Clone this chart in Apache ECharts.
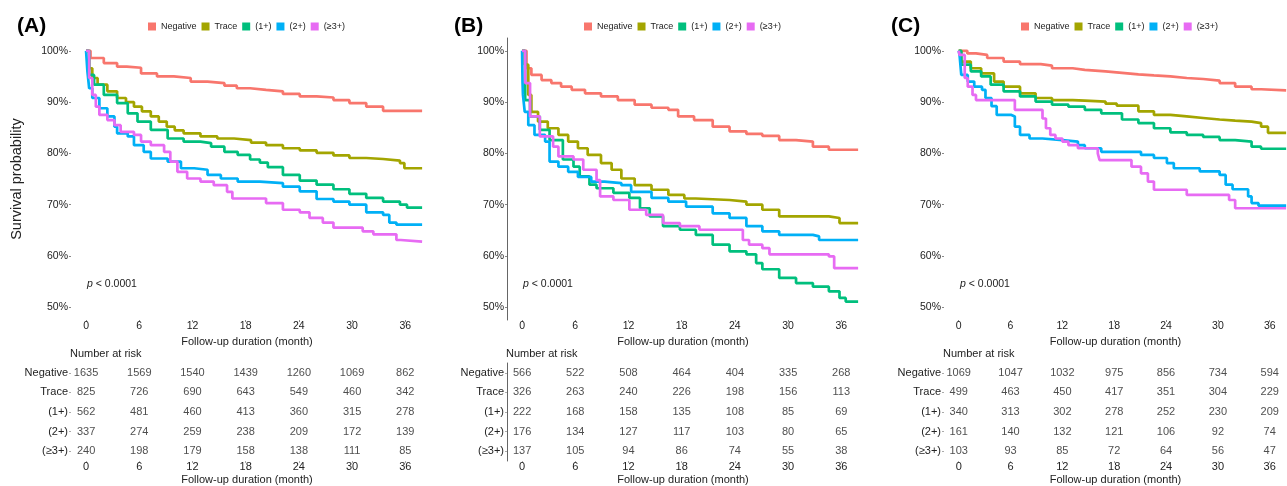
<!DOCTYPE html>
<html lang="en" style="height: 100%">
<head>
  <meta charset="utf-8">
  <title>Kaplan-Meier survival by proteinuria grade</title>
</head>
<body style="height: 100%; margin: 0; background: #fff">
  <div id="container" style="width: 1287px; height: 486px"></div>

  <script type="text/javascript" src="https://cdn.jsdelivr.net/npm/echarts@6.0.0/dist/echarts.min.js"></script>

  <script type="text/javascript">
    // groups, colours and tick values
    var groups = ['Negative', 'Trace', '(1+)', '(2+)', '(≥3+)'];
    var colors = ['#F8766D', '#A3A500', '#00BF7D', '#00B0F6', '#E76BF3'];
    var months = [0, 6, 12, 18, 24, 30, 36];
    var pctTicks = [50, 60, 70, 80, 90, 100];

    // survival curves [month, %], panel A
    var aNegative = [[0,100],[0.5,98.6],[2,97.6],[3.5,96.9],[4.6,96.7],[6.2,95.6],[8,95],[9.9,94.7],[11.8,94],[13.7,93.7],[15.6,93.2],[17,92.7],[18.5,92.4],[20.3,92.1],[22.2,91.6],[24.1,91.1],[26,90.9],[27.9,90.4],[29.7,89.8],[31.6,89.1],[33.5,88.3],[37.9,88.3]];
    var aTrace = [[0,100],[0.35,96.6],[0.7,94.7],[1.3,93.4],[2.4,92.1],[3.5,90.8],[4.5,90],[5.4,89.1],[6.3,88.2],[7.3,87.2],[8.2,86.2],[9.1,85.2],[10,84.5],[11,83.9],[12.9,83.3],[14.8,82.9],[16.7,82.6],[18.6,82.1],[20.3,81.6],[22.2,81],[24.1,80.6],[26,80.1],[27.9,79.6],[29.7,79.1],[31.6,78.9],[33.5,78.6],[35.4,78.1],[35.9,77.1],[37.9,77.1]];
    var a1 = [[0,100],[0.35,95.3],[0.9,93.4],[2,91.4],[3.5,89.8],[4.7,87.8],[5.8,86.2],[7.3,84.6],[9.2,82.9],[11,82.3],[12.9,82],[14.1,81.3],[15.6,80.3],[17.1,79.7],[18.5,78.8],[19.6,78.2],[20.5,77.3],[22.2,75.8],[24.1,74.7],[26,73.9],[27.9,73],[29.7,72.1],[31.6,71.3],[33.5,70.6],[35.4,70],[36.2,69.4],[37.9,69.4]];
    var a2 = [[0,100],[0.15,96],[0.35,92.7],[0.7,90.8],[1.5,88.8],[2.4,87.2],[3.2,85.2],[3.5,83.9],[4.7,83.3],[5.4,81.6],[6.5,80.3],[7.3,79],[9.2,78.4],[10.7,77.1],[12.2,76.8],[13.7,75.8],[15.2,75.1],[17.1,74.5],[19.6,74.2],[22.2,73.5],[24.1,72.6],[26,71.1],[27.9,70.6],[29.7,70],[31.6,68.5],[33.5,68],[34.2,66.5],[35,66.1],[37.9,66.1]];
    var a3 = [[0,100],[0.35,94.7],[0.7,91.4],[1.1,89.1],[1.5,87.5],[2.4,86.5],[3.2,85.5],[3.9,84.2],[5.4,83.6],[6.2,82.3],[7.3,81.6],[8.8,80.3],[9.5,78.4],[10.3,76.4],[11.4,75.1],[12.9,74.5],[14.4,73.8],[15.9,72.5],[16.5,71.2],[20.3,70.3],[22.2,69],[24.1,68.5],[25.2,67.4],[26.7,66.5],[27.9,65.5],[31.2,64.8],[32.4,64.2],[35,63.1],[35.5,62.8],[37.9,62.8]];

    // panel B
    var bNegative = [[0,100],[0.5,96.6],[1.05,95.3],[2.2,94.3],[3.3,93.7],[4.4,93],[5.6,92.4],[7.1,91.7],[8.9,91.1],[10.8,90.4],[12.7,89.5],[14.6,88.9],[16.5,88.5],[17.6,87.2],[19.4,86.5],[21.5,85.2],[23.4,84.3],[25.3,83.8],[27.1,83.4],[29,82.6],[30.9,82.3],[32.8,81.3],[34.6,80.7],[37.9,80.7]];
    var bTrace = [[0,100],[0.3,97.3],[0.7,91.4],[1.05,88.1],[1.8,86.2],[2.9,84.9],[4.1,83.6],[5.2,82.3],[6.3,81],[7.4,79.7],[8.9,78.1],[10.1,76.8],[11.2,75.1],[12.7,73.8],[14.6,72.9],[16.5,71.9],[18.3,71.2],[19.6,70.9],[23.4,70.6],[25.3,70],[27.1,69],[29,67.7],[34.6,67.4],[35.8,66.4],[37.9,66.4]];
    var b1 = [[0,100],[0.35,90.4],[0.9,87.2],[2,84.6],[3.1,82.6],[4.6,78.8],[5.8,77.4],[6.5,75.5],[7.6,73.9],[8.4,73.2],[10.3,72.3],[12.1,71.3],[13.3,69.3],[14.4,67.7],[15.9,65.8],[17.8,65.1],[19.6,64.1],[21.5,62.2],[23.4,60.9],[25.3,60.3],[26.4,58.6],[27.1,57.4],[29,55.7],[30.9,54.7],[32.8,54],[34.6,53.1],[35.8,51.8],[36.5,51.1],[37.9,51.1]];
    var b2 = [[0,100],[0.05,94],[0.1,91.4],[0.3,88.1],[0.7,85.5],[1.4,83.6],[2.6,82.3],[3.1,78.4],[4.1,77.4],[5.2,76.4],[6.3,75.4],[7.8,74.5],[9.3,74.2],[11.2,73.8],[12.3,72.5],[14.6,71.3],[16.5,70.6],[18.5,69.6],[21.5,68.3],[23.4,67.4],[25.3,65.8],[27.1,64.8],[29,64.1],[32.8,63.8],[33.5,63.1],[37.9,63.1]];
    var b3 = [[0,100],[0.35,93.7],[0.9,87.2],[2,83.3],[3.5,81.3],[4.1,79.4],[5.8,78.8],[6.9,76.8],[8.4,74.8],[8.8,71.6],[10.3,70.9],[12.1,69],[14,68],[15.9,66.4],[17.8,65.8],[20,65.1],[24.9,63.1],[25.6,62.2],[27.1,61.5],[27.9,60.3],[34.6,59.9],[35.2,57.6],[37.9,57.6]];

    // panel C
    var cNegative = [[0,100],[1,99.5],[2,99.2],[3.3,98.6],[5.2,97.9],[7.1,97.4],[9.5,97.1],[10.8,96.6],[13.2,96.3],[14.6,96],[17,95.7],[18.9,95.4],[20.8,95.2],[22.6,95],[24.5,94.7],[26.4,94.5],[28.3,94.2],[30.2,93.7],[32,93],[33.9,92.5],[35,92.3],[37.9,92.3]];
    var cTrace = [[0,100],[0.3,97.9],[1.4,96.6],[2.6,95.6],[4.1,94],[5.2,93],[7.1,91.7],[8.9,90.8],[10.8,90.4],[13.2,90.3],[14.6,90.1],[17,89.7],[18.3,89.3],[20.8,88.2],[22.6,87.5],[24.5,87.2],[26.4,86.9],[28.3,86.6],[30.2,86.4],[32,86.2],[33.9,85.9],[35,85.2],[35.8,84],[37.9,84]];
    var c1 = [[0,100],[0.3,97.3],[1.4,96],[2.6,95],[3.7,93.4],[5.2,92.1],[7.1,91.1],[8.9,90.1],[10.8,89.5],[12.7,89.1],[14.6,88.5],[16.5,87.8],[18.9,86.6],[20.8,85.9],[22.6,84.9],[24.5,84.1],[26.4,83.6],[28.3,83.2],[30.2,82.6],[32,82.3],[33.9,81.3],[35,80.9],[37.9,80.9]];
    var c2 = [[0,100],[0.1,99.2],[0.3,95.3],[1.05,94],[1.8,93],[2.7,92.4],[3.1,90.8],[3.8,89.2],[4.4,87.5],[6.1,87.2],[6.5,85.2],[7.1,83.6],[8.2,82.9],[9.7,82.6],[12,82.3],[13.8,81.6],[14.6,81],[16.5,80.3],[21.1,79.7],[22.6,79.1],[24.1,78.1],[24.9,77.1],[27.9,76.5],[30.2,75.8],[30.9,73.9],[31.7,73],[33.5,71.6],[33.9,70.3],[34.7,69.8],[37.9,69.8]];
    var c3 = [[0,100],[0.1,99.2],[0.7,94.7],[1.05,93],[1.6,91.4],[2,90.4],[6.5,88.5],[9.7,86.8],[10.1,84.9],[10.6,83.6],[11.2,82.9],[12,82.3],[12.7,81.6],[13.8,81],[16.1,80],[16.3,78.7],[20,77.4],[21.1,76.1],[21.9,74.5],[22.6,72.9],[26.4,71.9],[31.3,70.9],[32,69.3],[37.9,69.3]];

    // number at risk, one row per group, columns at months
    var riskA = [[1635,1569,1540,1439,1260,1069,862],[825,726,690,643,549,460,342],[562,481,460,413,360,315,278],[337,274,259,238,209,172,139],[240,198,179,158,138,111,85]];
    var riskB = [[566,522,508,464,404,335,268],[326,263,240,226,198,156,113],[222,168,158,135,108,85,69],[176,134,127,117,103,80,65],[137,105,94,86,74,55,38]];
    var riskC = [[1069,1047,1032,975,856,734,594],[499,463,450,417,351,304,229],[340,313,302,278,252,230,209],[161,140,132,121,106,92,74],[103,93,85,72,64,56,47]];

    var panels = [
      { label: '(A)', curves: [aNegative, aTrace, a1, a2, a3], risk: riskA, left: 71, labelX: 17, legendX: 148, axisLine: false },
      { label: '(B)', curves: [bNegative, bTrace, b1, b2, b3], risk: riskB, left: 507, labelX: 454, legendX: 584, axisLine: true },
      { label: '(C)', curves: [cNegative, cTrace, c1, c2, c3], risk: riskC, left: 944, labelX: 891, legendX: 1021, axisLine: false }
    ];

    var FONT = '"Liberation Sans", Arial, sans-serif';
    var TXT = '#222';
    var plotW = 352;

    var dom = document.getElementById('container');
    var myChart = echarts.init(dom, null, { renderer: 'canvas' });

    var grid = [], xAxis = [], yAxis = [], series = [], title = [], legend = [];

    panels.forEach(function (p, k) {
      var gPlot = k * 2, gRisk = k * 2 + 1;
      grid.push({ left: p.left, top: 38, width: plotW, height: 282 });
      grid.push({ left: p.left, top: 363, width: plotW, height: 98 });

      // the left axis line sits on the grid edge, not at month 0
      var axisLineStyle = { show: p.axisLine, onZero: false, lineStyle: { color: '#666', width: 1 } };

      xAxis.push({
        gridIndex: gPlot, type: 'value', min: -1.7, max: 38,
        axisLine: { show: false, onZero: false },
        axisTick: { show: true, length: 2, customValues: months, lineStyle: { color: '#888' } },
        axisLabel: { customValues: months, fontSize: 10.5, color: TXT, margin: 1, fontFamily: FONT },
        splitLine: { show: false },
        name: 'Follow-up duration (month)', nameLocation: 'middle', nameGap: 12,
        nameTextStyle: { fontSize: 11, color: TXT, fontFamily: FONT }
      });
      xAxis.push({
        gridIndex: gRisk, type: 'value', min: -1.7, max: 38,
        axisLine: { show: false, onZero: false },
        axisTick: { show: true, length: 2, customValues: months, lineStyle: { color: '#aaa' } },
        axisLabel: { customValues: months, fontSize: 11, color: TXT, margin: 0, fontFamily: FONT },
        splitLine: { show: false },
        name: 'Follow-up duration (month)', nameLocation: 'middle', nameGap: 13,
        nameTextStyle: { fontSize: 11, color: TXT, fontFamily: FONT }
      });

      var yPlot = {
        gridIndex: gPlot, type: 'value', min: 47.5, max: 102.5,
        axisLine: axisLineStyle,
        axisTick: { show: true, length: 2, customValues: pctTicks, lineStyle: { color: '#888' } },
        axisLabel: { customValues: pctTicks, formatter: '{value}%', fontSize: 10.5, color: TXT, margin: 3, fontFamily: FONT },
        splitLine: { show: false }
      };
      if (k === 0) {
        yPlot.name = 'Survival probability';
        yPlot.nameLocation = 'middle';
        yPlot.nameGap = 47;
        yPlot.nameTextStyle = { fontSize: 14.5, color: TXT, fontFamily: FONT };
      }
      yAxis.push(yPlot);
      yAxis.push({
        gridIndex: gRisk, type: 'category', data: groups, inverse: true,
        axisLine: axisLineStyle,
        axisTick: { show: true, length: 2, alignWithLabel: true, lineStyle: { color: '#aaa' } },
        axisLabel: { fontSize: 11, color: TXT, margin: 3, fontFamily: FONT },
        splitLine: { show: false }
      });

      p.curves.forEach(function (curve, i) {
        series.push({
          name: groups[i], type: 'line', step: 'end',
          xAxisIndex: gPlot, yAxisIndex: gPlot,
          showSymbol: false, symbol: 'none',
          color: colors[i],
          lineStyle: { width: 2.7, color: colors[i] },
          data: curve
        });
      });

      var cells = [];
      p.risk.forEach(function (row, i) {
        row.forEach(function (n, j) { cells.push([months[j], groups[i], n]); });
      });
      series.push({
        type: 'scatter', xAxisIndex: gRisk, yAxisIndex: gRisk,
        symbolSize: 1, itemStyle: { color: 'transparent' }, silent: true,
        label: {
          show: true, position: 'inside', fontSize: 11, color: TXT, fontFamily: FONT,
          formatter: function (d) { return d.value[2]; }
        },
        data: cells
      });

      title.push({
        text: p.label, left: p.labelX, top: 16, padding: 0,
        textStyle: { fontSize: 21, fontWeight: 'bold', color: '#000', fontFamily: FONT }
      });
      title.push({
        text: 'Number at risk', left: p.left - 1, top: 348, padding: 0,
        textStyle: { fontSize: 11, fontWeight: 'normal', color: TXT, fontFamily: FONT }
      });
      title.push({
        text: '{i|p} < 0.0001', left: p.left + 16, top: 279, padding: 0,
        textStyle: {
          fontSize: 10.5, fontWeight: 'normal', color: TXT, fontFamily: FONT,
          rich: { i: { fontStyle: 'italic', fontSize: 10.5, color: TXT, fontFamily: FONT } }
        }
      });

      legend.push({
        data: groups, left: p.legendX, top: 22, padding: 0,
        icon: 'rect', itemWidth: 8, itemHeight: 8, itemGap: 5,
        textStyle: { fontSize: 9, color: TXT, fontFamily: FONT }
      });
    });

    var option = {
      animation: false,
      backgroundColor: '#fff',
      title: title,
      legend: legend,
      grid: grid,
      xAxis: xAxis,
      yAxis: yAxis,
      series: series
    };

    myChart.setOption(option);

    window.addEventListener('resize', function () {
      myChart.resize();
    });
  </script>
</body>
</html>
